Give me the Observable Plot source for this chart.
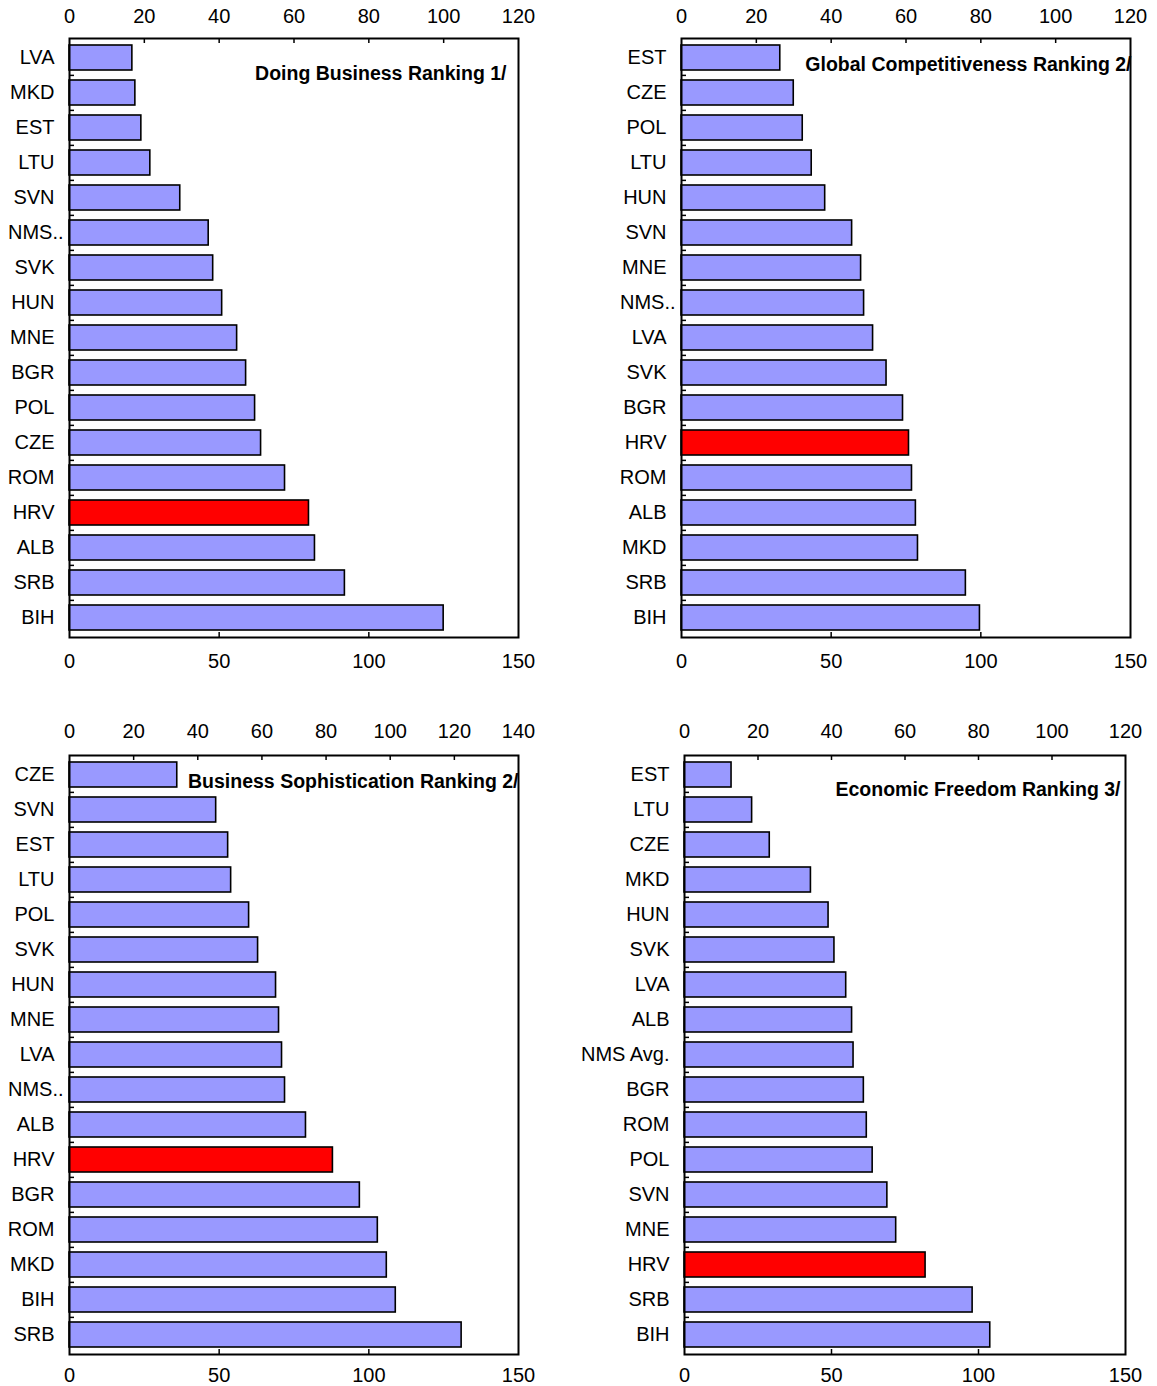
<!DOCTYPE html>
<html>
<head>
<meta charset="utf-8">
<script src="https://cdn.jsdelivr.net/npm/d3@7"></script>
<script src="https://cdn.jsdelivr.net/npm/@observablehq/plot@0.6"></script>
<style>
  body { margin: 0; background: #fff; }
  #root { position: relative; width: 1157px; height: 1386px; font-family: "Liberation Sans", Arial, sans-serif; }
  #root > .panel { position: absolute; }
</style>
</head>
<body>
<div id="root"></div>
<script>
// ---------- data ----------
const bottomTicks = [0, 50, 100, 150];

const dbTitle = "Doing Business Ranking 1/";
const dbCountries = ["LVA", "MKD", "EST", "LTU", "SVN", "NMS..", "SVK", "HUN", "MNE", "BGR", "POL", "CZE", "ROM", "HRV", "ALB", "SRB", "BIH"];
const dbValues = [21, 22, 24, 27, 37, 46.5, 48, 51, 56, 59, 62, 64, 72, 80, 82, 92, 125];
const dbTopTicks = [0, 20, 40, 60, 80, 100, 120];

const gcTitle = "Global Competitiveness Ranking 2/";
const gcCountries = ["EST", "CZE", "POL", "LTU", "HUN", "SVN", "MNE", "NMS..", "LVA", "SVK", "BGR", "HRV", "ROM", "ALB", "MKD", "SRB", "BIH"];
const gcValues = [33, 37.5, 40.5, 43.5, 48, 57, 60, 61, 64, 68.5, 74, 76, 77, 78.3, 79, 95, 99.7];
const gcTopTicks = [0, 20, 40, 60, 80, 100, 120];

const bsTitle = "Business Sophistication Ranking 2/";
const bsCountries = ["CZE", "SVN", "EST", "LTU", "POL", "SVK", "HUN", "MNE", "LVA", "NMS..", "ALB", "HRV", "BGR", "ROM", "MKD", "BIH", "SRB"];
const bsValues = [36, 49, 53, 54, 60, 63, 69, 70, 71, 72, 79, 88, 97, 103, 106, 109, 131];
const bsTopTicks = [0, 20, 40, 60, 80, 100, 120, 140];

const efTitle = "Economic Freedom Ranking 3/";
const efCountries = ["EST", "LTU", "CZE", "MKD", "HUN", "SVK", "LVA", "ALB", "NMS Avg.", "BGR", "ROM", "POL", "SVN", "MNE", "HRV", "SRB", "BIH"];
const efValues = [16, 23, 29, 43, 49, 51, 55, 57, 57.5, 61, 62, 64, 69, 72, 82, 98, 104];
const efTopTicks = [0, 20, 40, 60, 80, 100, 120];

const highlight = "HRV";
const truncated = "NMS..";

// ---------- drawing ----------
const root = document.getElementById("root");

function panel(cats, vals, title, topTicks, cfg) {
  const data = cats.map((c, i) => ({name: c, value: vals[i]}));
  const xMax = bottomTicks[bottomTicks.length - 1];
  const topMax = topTicks[topTicks.length - 1];
  const innerH = cfg.height - cfg.mt - cfg.mb;
  const innerW = cfg.width - cfg.ml - cfg.mr;
  const step = innerH / cats.length;
  const tick = 5;
  const fs = 20;
  const normalCats = cats.filter(c => c !== truncated);
  const truncCats = cats.filter(c => c === truncated);
  const marks = [
    Plot.barX(data, {
      x: "value",
      y: "name",
      fill: d => d.name === highlight ? "#FF0000" : "#9999FF",
      stroke: "black",
      strokeWidth: 1.6
    }),
    // inner ticks on bottom axis
    Plot.ruleX(bottomTicks.slice(1, -1), {x: d => d, insetTop: innerH - tick, stroke: "black", strokeWidth: 1.5}),
    // inner ticks on top (secondary) axis
    Plot.ruleX(topTicks.slice(1, -1).map(v => v * xMax / topMax), {x: d => d, insetBottom: innerH - tick, stroke: "black", strokeWidth: 1.5}),
    // category boundary ticks on the left axis
    Plot.ruleY(cats.slice(1), {y: d => d, dy: -step / 2, insetRight: innerW - tick, stroke: "black", strokeWidth: 1.5}),
    Plot.axisY(normalCats, {tickSize: 0, tickPadding: 15, label: null, fontSize: fs}),
    Plot.axisX(bottomTicks, {anchor: "bottom", tickSize: 0, tickPadding: cfg.bp, label: null, fontSize: fs}),
    Plot.axisX(topTicks.map(v => v * xMax / topMax), {
      anchor: "top", tickSize: 0, tickPadding: cfg.tp, label: null, fontSize: fs,
      tickFormat: d => String(Math.round(d * topMax / xMax))
    }),
    Plot.frame({stroke: "black", strokeWidth: 2}),
    Plot.text([title], {
      frameAnchor: "top-right", text: d => d, textAnchor: "end",
      dx: cfg.tdx, dy: cfg.tdy, fontWeight: "bold", fontSize: 19.5, fill: "black"
    })
  ];
  if (truncCats.length) {
    marks.push(Plot.axisY(truncCats, {tickSize: 0, tickPadding: 6, label: null, fontSize: fs}));
  }
  const plot = Plot.plot({
    width: cfg.width,
    height: cfg.height,
    marginTop: cfg.mt,
    marginBottom: cfg.mb,
    marginLeft: cfg.ml,
    marginRight: cfg.mr,
    style: {fontFamily: '"Liberation Sans", Arial, sans-serif', fontSize: fs + "px", color: "black", background: "white", overflow: "visible"},
    x: {domain: [0, xMax]},
    y: {domain: cats, paddingInner: 0.3, paddingOuter: 0.15},
    color: {type: "identity"},
    marks
  });
  const wrap = document.createElement("div");
  wrap.className = "panel";
  wrap.style.left = cfg.left + "px";
  wrap.style.top = cfg.top + "px";
  wrap.appendChild(plot);
  root.appendChild(wrap);
}

panel(dbCountries, dbValues, dbTitle, dbTopTicks,
  {left: 0, top: 0, width: 578, height: 690, mt: 38, mb: 53, ml: 69, mr: 60, tdx: -12, tdy: 28, tp: 16, bp: 16});
panel(gcCountries, gcValues, gcTitle, gcTopTicks,
  {left: 578, top: 0, width: 579, height: 690, mt: 38, mb: 53, ml: 103, mr: 27, tdx: 1, tdy: 19, tp: 16, bp: 16});
panel(bsCountries, bsValues, bsTitle, bsTopTicks,
  {left: 0, top: 700, width: 578, height: 686, mt: 55, mb: 32, ml: 69, mr: 60, tdx: 0, tdy: 19, tp: 18, bp: 13});
panel(efCountries, efValues, efTitle, efTopTicks,
  {left: 578, top: 700, width: 579, height: 686, mt: 55, mb: 32, ml: 106, mr: 32, tdx: -5, tdy: 27, tp: 18, bp: 13});
</script>
</body>
</html>
